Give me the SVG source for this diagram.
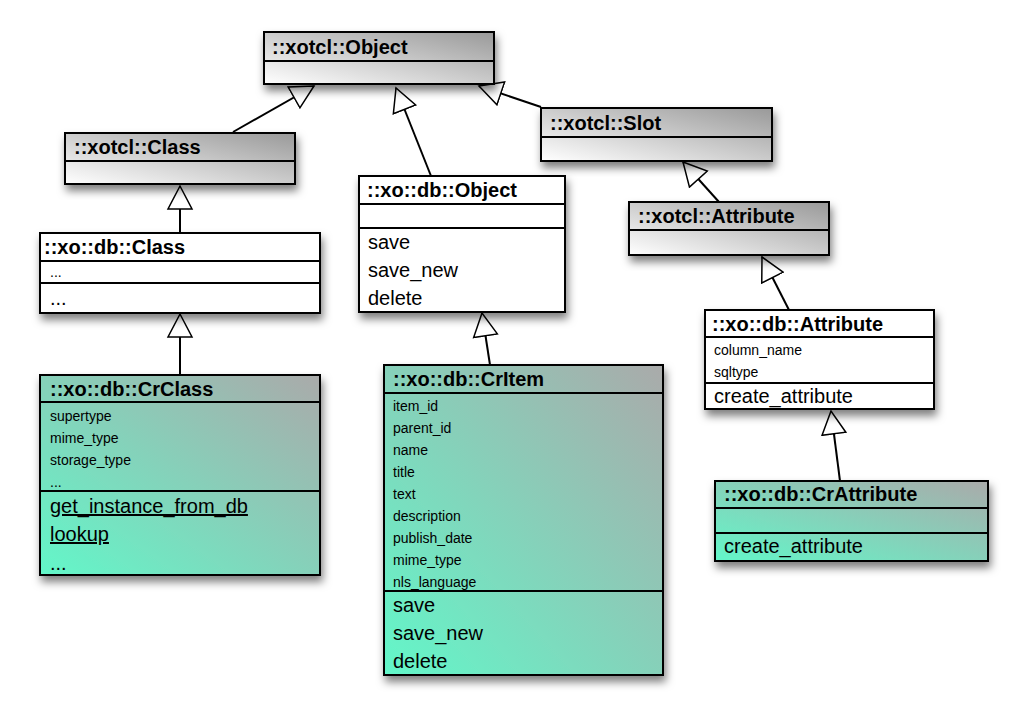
<svg xmlns="http://www.w3.org/2000/svg" width="1028" height="722" viewBox="0 0 1028 722">
<style>
.box{stroke:#000;stroke-width:2}
.ln{stroke:#000;stroke-width:2}
.h{font-family:"Liberation Sans",Arial,sans-serif;font-weight:bold;font-size:20px}
.a{font-family:"Liberation Sans",Arial,sans-serif;font-size:14px}
.m{font-family:"Liberation Sans",Arial,sans-serif;font-size:20px}
.u{text-decoration:underline}
.c{stroke:#000;stroke-width:2;fill:none;marker-end:url(#tri)}
</style>
<defs>
<linearGradient id="gg" x1="0" y1="1" x2="1" y2="0"><stop offset="0" stop-color="#ffffff"/><stop offset="1" stop-color="#999"/></linearGradient>
<linearGradient id="gn" x1="0" y1="1" x2="1" y2="0"><stop offset="0" stop-color="#62f7c9"/><stop offset="1" stop-color="#aaa"/></linearGradient>
<filter id="sh" x="-10%" y="-10%" width="130%" height="140%"><feDropShadow dx="2" dy="6" stdDeviation="4" flood-color="#000" flood-opacity="0.5"/></filter>
<marker id="tri" viewBox="-24 -14 26 28" markerWidth="26" markerHeight="28" refX="0" refY="0" orient="auto" markerUnits="userSpaceOnUse"><path d="M0,0 L-23,-12 L-23,12 Z" fill="#fff" stroke="#000" stroke-width="1.5"/></marker>
</defs>
<rect width="1028" height="722" fill="#fff"/>
<g id="connectors">
<path class="c" d="M233,132 L314,86"/>
<path class="c" d="M431,176 L396,88"/>
<path class="c" d="M541,107 L479,86"/>
<path class="c" d="M180,233 L180,186"/>
<path class="c" d="M180,375 L180,314"/>
<path class="c" d="M490,365 L482,313"/>
<path class="c" d="M719,202 L683,162"/>
<path class="c" d="M789,310 L762,257"/>
<path class="c" d="M840,481 L831,411"/>
</g>
<g id="xotcl-Object"><rect class="box" x="264" y="32" width="230" height="52" fill="url(#gg)" filter="url(#sh)"/><line class="ln" x1="264" y1="61" x2="494" y2="61"/><text class="h" x="272" y="54">::xotcl::Object</text></g>
<g id="xotcl-Class"><rect class="box" x="65" y="133" width="230" height="51" fill="url(#gg)" filter="url(#sh)"/><line class="ln" x1="65" y1="161" x2="295" y2="161"/><text class="h" x="74" y="154">::xotcl::Class</text></g>
<g id="xotcl-Slot"><rect class="box" x="541" y="108" width="231" height="53" fill="url(#gg)" filter="url(#sh)"/><line class="ln" x1="541" y1="137" x2="772" y2="137"/><text class="h" x="550" y="130">::xotcl::Slot</text></g>
<g id="xotcl-Attribute"><rect class="box" x="629" y="202" width="200" height="53" fill="url(#gg)" filter="url(#sh)"/><line class="ln" x1="629" y1="230" x2="829" y2="230"/><text class="h" x="638" y="223">::xotcl::Attribute</text></g>
<g id="xodb-Class"><rect class="box" x="40" y="233" width="280" height="80" fill="#fff" filter="url(#sh)"/><line class="ln" x1="40" y1="261" x2="320" y2="261"/><line class="ln" x1="40" y1="283" x2="320" y2="283"/><text class="h" x="44" y="254">::xo::db::Class</text><text class="a" x="50" y="277">...</text><text class="m" x="50" y="305">...</text></g>
<g id="xodb-Object"><rect class="box" x="359" y="176" width="206" height="136" fill="#fff" filter="url(#sh)"/><line class="ln" x1="359" y1="204" x2="565" y2="204"/><line class="ln" x1="359" y1="228" x2="565" y2="228"/><text class="h" x="367" y="197">::xo::db::Object</text><text class="m" x="368" y="249">save</text><text class="m" x="368" y="277">save_new</text><text class="m" x="368" y="305">delete</text></g>
<g id="xodb-Attribute"><rect class="box" x="705" y="310" width="229" height="99" fill="#fff" filter="url(#sh)"/><line class="ln" x1="705" y1="337" x2="934" y2="337"/><line class="ln" x1="705" y1="383" x2="934" y2="383"/><text class="h" x="712" y="331">::xo::db::Attribute</text><text class="a" x="714" y="355">column_name</text><text class="a" x="714" y="377">sqltype</text><text class="m" x="714" y="403">create_attribute</text></g>
<g id="xodb-CrAttribute"><rect class="box" x="715" y="481" width="273" height="80" fill="url(#gn)" filter="url(#sh)"/><line class="ln" x1="715" y1="508" x2="988" y2="508"/><line class="ln" x1="715" y1="533" x2="988" y2="533"/><text class="h" x="724" y="501">::xo::db::CrAttribute</text><text class="m" x="724" y="553">create_attribute</text></g>
<g id="xodb-CrClass"><rect class="box" x="40" y="375" width="280" height="200" fill="url(#gn)" filter="url(#sh)"/><line class="ln" x1="40" y1="402" x2="320" y2="402"/><line class="ln" x1="40" y1="491" x2="320" y2="491"/><text class="h" x="50" y="396">::xo::db::CrClass</text>
<text class="a" x="50" y="421">supertype</text><text class="a" x="50" y="443">mime_type</text><text class="a" x="50" y="465">storage_type</text><text class="a" x="50" y="487">...</text>
<text class="m u" x="50" y="513">get_instance_from_db</text><text class="m u" x="50" y="541">lookup</text><text class="m" x="50" y="570">...</text></g>
<g id="xodb-CrItem"><rect class="box" x="384" y="365" width="279" height="310" fill="url(#gn)" filter="url(#sh)"/><line class="ln" x1="384" y1="393" x2="663" y2="393"/><line class="ln" x1="384" y1="591" x2="663" y2="591"/><text class="h" x="393" y="386">::xo::db::CrItem</text>
<text class="a" x="393" y="411">item_id</text><text class="a" x="393" y="433">parent_id</text><text class="a" x="393" y="455">name</text><text class="a" x="393" y="477">title</text><text class="a" x="393" y="499">text</text><text class="a" x="393" y="521">description</text><text class="a" x="393" y="543">publish_date</text><text class="a" x="393" y="565">mime_type</text><text class="a" x="393" y="587">nls_language</text>
<text class="m" x="393" y="612">save</text><text class="m" x="393" y="640">save_new</text><text class="m" x="393" y="668">delete</text></g>
</svg>
